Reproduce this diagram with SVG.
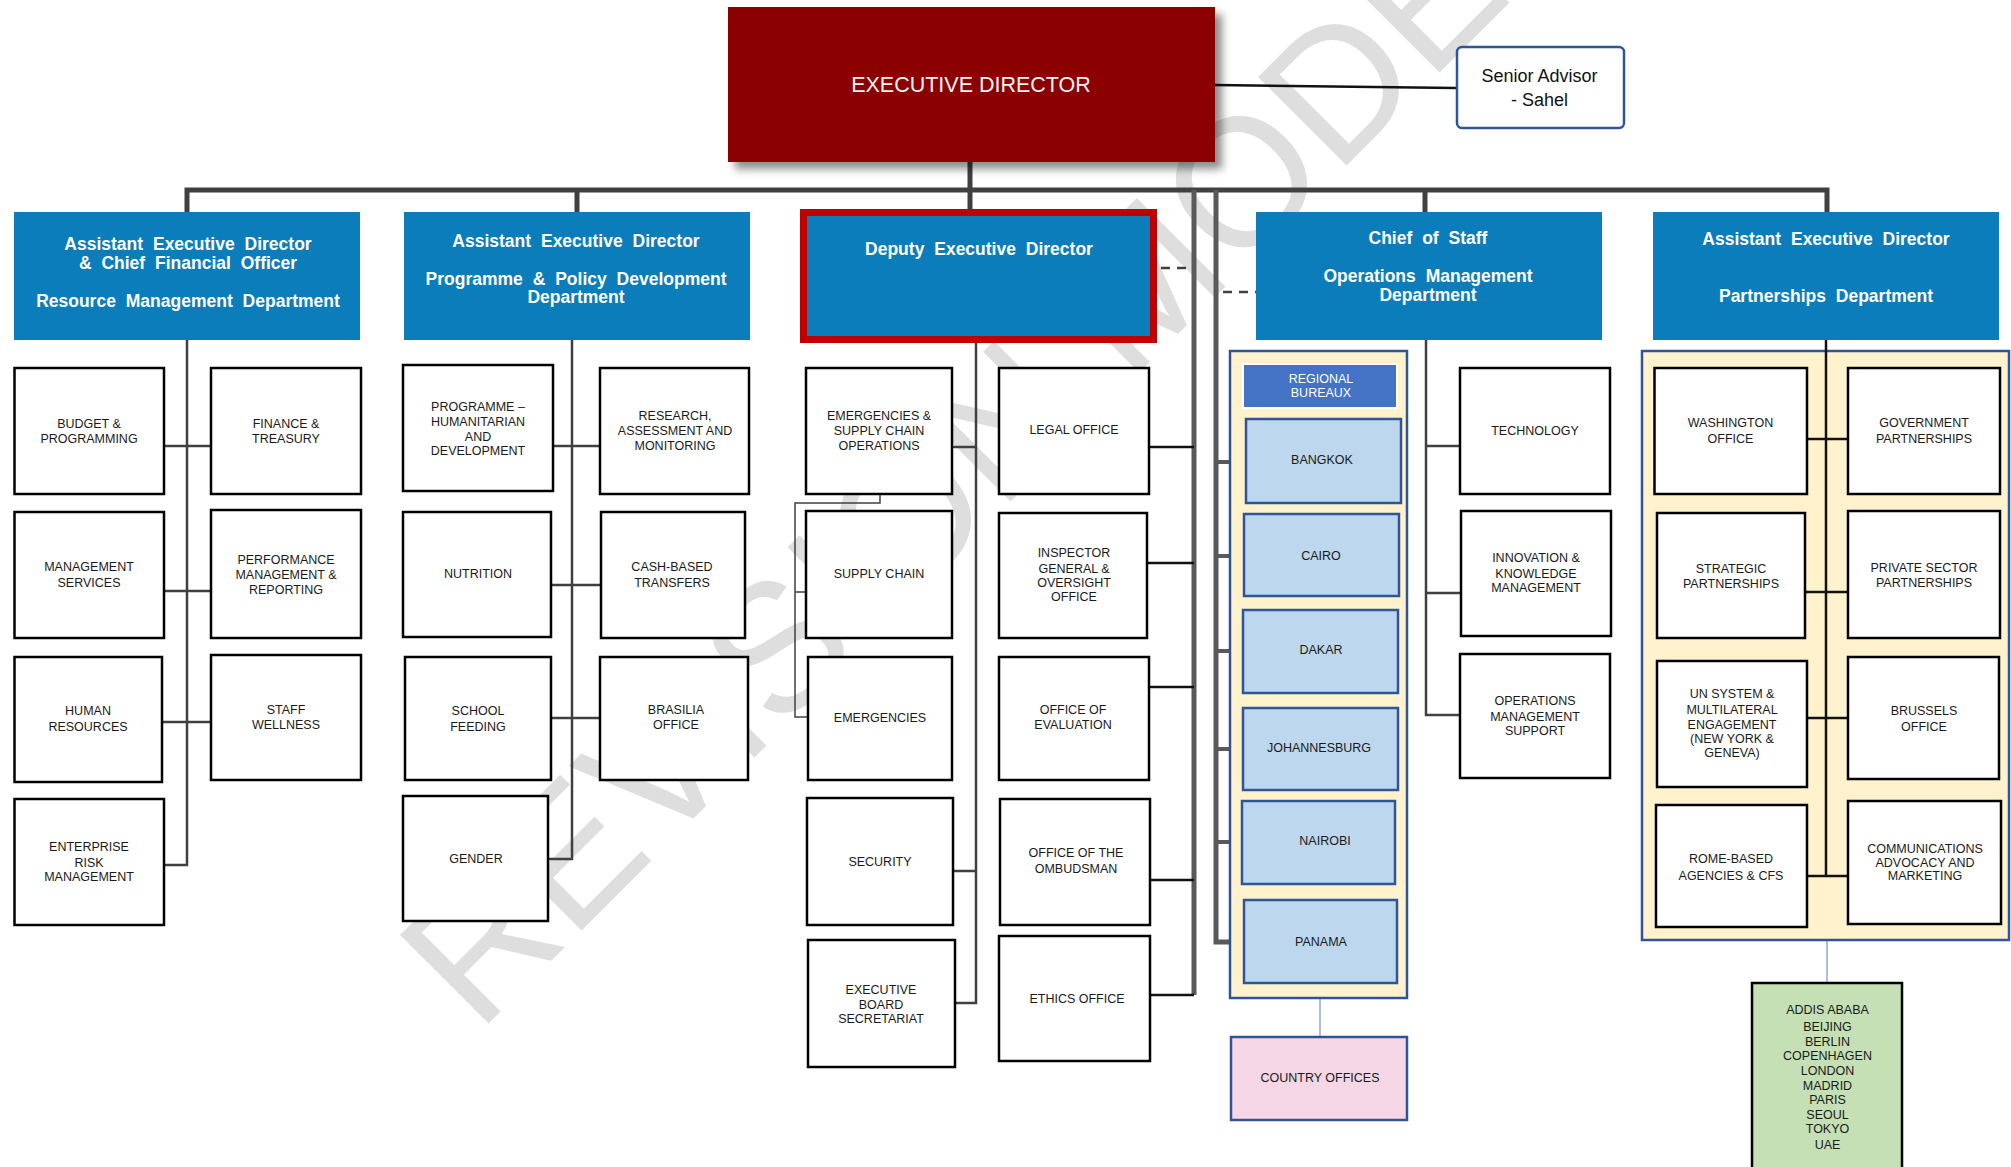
<svg xmlns="http://www.w3.org/2000/svg" width="2011" height="1167" viewBox="0 0 2011 1167">
<defs>
<filter id="shadow" x="-10%" y="-10%" width="130%" height="140%">
<feDropShadow dx="7" dy="7" stdDeviation="4" flood-color="#000" flood-opacity="0.45"/>
</filter>
<style>
.hdr{fill:#0B7DBB;}
.hdrt{font-family:"Liberation Sans",Arial,sans-serif;font-weight:bold;font-size:17.5px;fill:#fff;text-anchor:middle;dominant-baseline:central;word-spacing:5px;}
.box{fill:#fff;stroke:#000;stroke-width:2.5;}
.t{font-family:"Liberation Sans",Arial,sans-serif;font-size:12.5px;fill:#1a1a1a;text-anchor:middle;dominant-baseline:central;}
.rb{fill:#BDD7EE;stroke:#2F5597;stroke-width:2.5;}
.cont{fill:#FFF2CC;stroke:#2F5597;stroke-width:2.5;}
.bus{fill:none;stroke:#404040;stroke-width:5;}
.vg{fill:none;stroke:#595959;stroke-width:5;}
.ln{fill:none;stroke:#404040;stroke-width:2.5;}
.lb{fill:none;stroke:#111;stroke-width:2.5;}
.thin{fill:none;stroke:#404040;stroke-width:1.5;}
.dash{fill:none;stroke:#404040;stroke-width:2.5;stroke-dasharray:9,7;}
.blu{fill:none;stroke:#8FAADC;stroke-width:1.5;}
.wm{font-family:"Liberation Sans",Arial,sans-serif;font-size:182px;fill:#DEDEDE;}
</style>
</defs>
<rect width="2011" height="1167" fill="#fff"/>
<text class="wm" transform="translate(478,1034) rotate(-45)">REVISION MODE</text>

<g id="connectors">
<path class="bus" d="M187,212 V190 H1827 V212"/>
<path class="bus" d="M577,190 V212"/>
<path class="bus" d="M970,162 V209"/>
<path class="bus" d="M1425,190 V212"/>
<path class="vg" d="M1194,190 V995"/>
<path class="vg" d="M1216,190 V942 H1244"/>
<path class="lb" d="M1215,85 L1456,88"/>
<path class="dash" d="M1161,268 H1192"/>
<path class="dash" d="M1223,292 H1256"/>
<path class="ln" d="M187,340 V865 H164 M164,446 H211 M164,591 H211 M162,722 H211"/>
<path class="ln" d="M572,340 V859 H548 M553,446 H600 M551,585 H601 M551,718 H600"/>
<path class="ln" d="M976,343 V1003 H955 M952,447 H976 M953,871 H976"/>
<path class="thin" d="M880,494 V503 H795 V717 H808 M795,592 H806"/>
<path class="lb" d="M1149,447 H1194 M1147,563 H1194 M1149,687 H1194 M1150,880 H1194 M1150,995 H1194"/>
<path class="vg" style="stroke-width:4" d="M1216,462 H1246 M1216,556 H1244 M1216,651 H1243 M1216,749 H1243 M1216,842 H1242"/>
<path class="ln" d="M1426,340 V715 H1460 M1426,446 H1460 M1426,593 H1461"/>
<path class="blu" d="M1320,998 V1037"/>
<path class="blu" d="M1827,940 V982"/>
</g>

<g id="executive-director">
<rect x="728" y="7" width="487" height="155" fill="#8B0000" filter="url(#shadow)"/>
<text x="971" y="85" style="font-family:'Liberation Sans',Arial,sans-serif;font-size:21.5px;fill:#F2F2F2;text-anchor:middle;dominant-baseline:central;">EXECUTIVE DIRECTOR</text>
</g>
<g id="senior-advisor">
<rect x="1457" y="47" width="167" height="81" rx="5" fill="#fff" stroke="#2F5597" stroke-width="2.5"/>
<text x="1539.5" y="76" style="font-family:'Liberation Sans',Arial,sans-serif;font-size:18px;fill:#111;text-anchor:middle;dominant-baseline:central;">Senior Advisor</text>
<text x="1539.5" y="100" style="font-family:'Liberation Sans',Arial,sans-serif;font-size:18px;fill:#111;text-anchor:middle;dominant-baseline:central;">- Sahel</text>
</g>

<g id="rmd">
<rect class="hdr" x="14" y="212" width="346" height="128"/>
<text class="hdrt" x="188" y="244">Assistant Executive Director</text>
<text class="hdrt" x="188" y="263">&amp; Chief Financial Officer</text>
<text class="hdrt" x="188" y="301">Resource Management Department</text>
</g>
<g id="ppd">
<rect class="hdr" x="404" y="212" width="346" height="128"/>
<text class="hdrt" x="576" y="241">Assistant Executive Director</text>
<text class="hdrt" x="576" y="279">Programme &amp; Policy Development</text>
<text class="hdrt" x="576" y="297">Department</text>
</g>
<g id="ded">
<rect x="803.5" y="212.5" width="350" height="127" fill="#0B7DBB" stroke="#C00000" stroke-width="7"/>
<text class="hdrt" x="979" y="249">Deputy Executive Director</text>
</g>
<g id="omd">
<rect class="hdr" x="1256" y="212" width="346" height="128"/>
<text class="hdrt" x="1428" y="238">Chief of Staff</text>
<text class="hdrt" x="1428" y="276">Operations Management</text>
<text class="hdrt" x="1428" y="295">Department</text>
</g>
<g id="pd">
<rect class="hdr" x="1653" y="212" width="346" height="128"/>
<text class="hdrt" x="1826" y="239">Assistant Executive Director</text>
<text class="hdrt" x="1826" y="296">Partnerships Department</text>
</g>

<g id="budget"><rect class="box" x="14.5" y="368" width="149.5" height="126"/><text class="t" x="89" y="423.5">BUDGET &amp;</text><text class="t" x="89" y="439">PROGRAMMING</text></g>
<g id="mgmt-services"><rect class="box" x="14.5" y="512" width="149.5" height="126"/><text class="t" x="89" y="567">MANAGEMENT</text><text class="t" x="89" y="583">SERVICES</text></g>
<g id="hr"><rect class="box" x="14.5" y="657" width="147.5" height="125"/><text class="t" x="88" y="711">HUMAN</text><text class="t" x="88" y="727">RESOURCES</text></g>
<g id="erm"><rect class="box" x="14.5" y="799" width="149.5" height="126"/><text class="t" x="89" y="847">ENTERPRISE</text><text class="t" x="89" y="863">RISK</text><text class="t" x="89" y="877">MANAGEMENT</text></g>
<g id="finance"><rect class="box" x="211" y="368" width="150" height="126"/><text class="t" x="286" y="423.5">FINANCE &amp;</text><text class="t" x="286" y="439">TREASURY</text></g>
<g id="performance"><rect class="box" x="211" y="510" width="150" height="128"/><text class="t" x="286" y="560">PERFORMANCE</text><text class="t" x="286" y="575">MANAGEMENT &amp;</text><text class="t" x="286" y="590">REPORTING</text></g>
<g id="wellness"><rect class="box" x="211" y="655" width="150" height="125"/><text class="t" x="286" y="710">STAFF</text><text class="t" x="286" y="725">WELLNESS</text></g>

<g id="programme"><rect class="box" x="403" y="365" width="150" height="126"/><text class="t" x="478" y="407">PROGRAMME –</text><text class="t" x="478" y="422">HUMANITARIAN</text><text class="t" x="478" y="437">AND</text><text class="t" x="478" y="451">DEVELOPMENT</text></g>
<g id="nutrition"><rect class="box" x="403" y="512" width="148" height="125"/><text class="t" x="478" y="574">NUTRITION</text></g>
<g id="school-feeding"><rect class="box" x="405" y="657" width="146" height="123"/><text class="t" x="478" y="711">SCHOOL</text><text class="t" x="478" y="727">FEEDING</text></g>
<g id="gender"><rect class="box" x="403" y="796" width="145" height="125"/><text class="t" x="476" y="859">GENDER</text></g>
<g id="research"><rect class="box" x="600" y="368" width="149" height="126"/><text class="t" x="675" y="416">RESEARCH,</text><text class="t" x="675" y="431">ASSESSMENT AND</text><text class="t" x="675" y="446">MONITORING</text></g>
<g id="cash-based"><rect class="box" x="601" y="512" width="144" height="126"/><text class="t" x="672" y="567">CASH-BASED</text><text class="t" x="672" y="583">TRANSFERS</text></g>
<g id="brasilia"><rect class="box" x="600" y="657" width="148" height="123"/><text class="t" x="676" y="710">BRASILIA</text><text class="t" x="676" y="725">OFFICE</text></g>

<g id="esc-ops"><rect class="box" x="806" y="368" width="146" height="126"/><text class="t" x="879" y="416">EMERGENCIES &amp;</text><text class="t" x="879" y="431">SUPPLY CHAIN</text><text class="t" x="879" y="446">OPERATIONS</text></g>
<g id="supply-chain"><rect class="box" x="806" y="511" width="146" height="127"/><text class="t" x="879" y="574">SUPPLY CHAIN</text></g>
<g id="emergencies"><rect class="box" x="808" y="657" width="144" height="123"/><text class="t" x="880" y="718">EMERGENCIES</text></g>
<g id="security"><rect class="box" x="807" y="798" width="146" height="127"/><text class="t" x="880" y="862">SECURITY</text></g>
<g id="ebs"><rect class="box" x="808" y="940" width="147" height="127"/><text class="t" x="881" y="990">EXECUTIVE</text><text class="t" x="881" y="1005">BOARD</text><text class="t" x="881" y="1019">SECRETARIAT</text></g>
<g id="legal"><rect class="box" x="999" y="368" width="150" height="126"/><text class="t" x="1074" y="430">LEGAL OFFICE</text></g>
<g id="inspector"><rect class="box" x="999" y="513" width="148" height="125"/><text class="t" x="1074" y="553">INSPECTOR</text><text class="t" x="1074" y="569">GENERAL &amp;</text><text class="t" x="1074" y="583">OVERSIGHT</text><text class="t" x="1074" y="597">OFFICE</text></g>
<g id="evaluation"><rect class="box" x="999" y="657" width="150" height="123"/><text class="t" x="1073" y="710">OFFICE OF</text><text class="t" x="1073" y="725">EVALUATION</text></g>
<g id="ombudsman"><rect class="box" x="1000" y="799" width="150" height="126"/><text class="t" x="1076" y="853">OFFICE OF THE</text><text class="t" x="1076" y="869">OMBUDSMAN</text></g>
<g id="ethics"><rect class="box" x="999" y="936" width="151" height="125"/><text class="t" x="1077" y="999">ETHICS OFFICE</text></g>

<g id="regional-bureaux">
<rect class="cont" x="1230" y="351" width="177" height="647"/>
<rect x="1243" y="364" width="154" height="44" fill="#4472C4" stroke="#fff" stroke-width="2"/>
<text class="t" x="1321" y="379" style="fill:#fff">REGIONAL</text>
<text class="t" x="1321" y="393" style="fill:#fff">BUREAUX</text>
</g>
<g id="bangkok"><rect class="rb" x="1246" y="419" width="155" height="84"/><text class="t" x="1322" y="460">BANGKOK</text></g>
<g id="cairo"><rect class="rb" x="1244" y="514" width="155" height="82"/><text class="t" x="1321" y="556">CAIRO</text></g>
<g id="dakar"><rect class="rb" x="1243" y="610" width="155" height="83"/><text class="t" x="1321" y="650">DAKAR</text></g>
<g id="johannesburg"><rect class="rb" x="1243" y="708" width="155" height="82"/><text class="t" x="1319" y="748">JOHANNESBURG</text></g>
<g id="nairobi"><rect class="rb" x="1242" y="801" width="153" height="83"/><text class="t" x="1325" y="841">NAIROBI</text></g>
<g id="panama"><rect class="rb" x="1244" y="900" width="153" height="83"/><text class="t" x="1321" y="942">PANAMA</text></g>
<g id="country-offices"><rect x="1231" y="1037" width="176" height="83" fill="#F4D6E4" stroke="#2F5597" stroke-width="2.5"/><text class="t" x="1320" y="1078">COUNTRY OFFICES</text></g>

<g id="technology"><rect class="box" x="1460" y="368" width="150" height="126"/><text class="t" x="1535" y="431">TECHNOLOGY</text></g>
<g id="innovation"><rect class="box" x="1461" y="511" width="150" height="125"/><text class="t" x="1536" y="558">INNOVATION &amp;</text><text class="t" x="1536" y="574">KNOWLEDGE</text><text class="t" x="1536" y="588">MANAGEMENT</text></g>
<g id="oms"><rect class="box" x="1460" y="654" width="150" height="124"/><text class="t" x="1535" y="701">OPERATIONS</text><text class="t" x="1535" y="716.5">MANAGEMENT</text><text class="t" x="1535" y="731">SUPPORT</text></g>

<g id="partnerships-container"><rect class="cont" x="1642" y="351" width="367" height="589"/></g>
<g id="partnership-lines"><path class="lb" d="M1826,340 V876 M1807,439 H1848 M1805,592 H1848 M1807,718 H1848 M1807,876 H1848"/></g>
<g id="washington"><rect class="box" x="1654.5" y="368" width="152.5" height="126"/><text class="t" x="1730.5" y="423">WASHINGTON</text><text class="t" x="1730.5" y="439">OFFICE</text></g>
<g id="government"><rect class="box" x="1848" y="368" width="152" height="126"/><text class="t" x="1924" y="423">GOVERNMENT</text><text class="t" x="1924" y="439">PARTNERSHIPS</text></g>
<g id="strategic"><rect class="box" x="1657" y="513" width="148" height="125"/><text class="t" x="1731" y="569">STRATEGIC</text><text class="t" x="1731" y="584">PARTNERSHIPS</text></g>
<g id="private-sector"><rect class="box" x="1848" y="511" width="152" height="127"/><text class="t" x="1924" y="568">PRIVATE SECTOR</text><text class="t" x="1924" y="583">PARTNERSHIPS</text></g>
<g id="un-system"><rect class="box" x="1657" y="661" width="150" height="126"/><text class="t" x="1732" y="694">UN SYSTEM &amp;</text><text class="t" x="1732" y="710">MULTILATERAL</text><text class="t" x="1732" y="724.5">ENGAGEMENT</text><text class="t" x="1732" y="739">(NEW YORK &amp;</text><text class="t" x="1732" y="753">GENEVA)</text></g>
<g id="brussels"><rect class="box" x="1848" y="657" width="151" height="122"/><text class="t" x="1924" y="711">BRUSSELS</text><text class="t" x="1924" y="727">OFFICE</text></g>
<g id="rome"><rect class="box" x="1656" y="805" width="151" height="122"/><text class="t" x="1731" y="859">ROME-BASED</text><text class="t" x="1731" y="876">AGENCIES &amp; CFS</text></g>
<g id="communications"><rect class="box" x="1848" y="801" width="153" height="123"/><text class="t" x="1925" y="848.5">COMMUNICATIONS</text><text class="t" x="1925" y="863">ADVOCACY AND</text><text class="t" x="1925" y="876">MARKETING</text></g>
<g id="liaison-offices"><rect x="1752" y="983" width="150" height="200" fill="#C5E0B4" stroke="#000" stroke-width="2.5"/>
<text class="t" x="1827.5" y="1010">ADDIS ABABA</text><text class="t" x="1827.5" y="1027">BEIJING</text><text class="t" x="1827.5" y="1042">BERLIN</text><text class="t" x="1827.5" y="1056">COPENHAGEN</text><text class="t" x="1827.5" y="1071">LONDON</text><text class="t" x="1827.5" y="1086">MADRID</text><text class="t" x="1827.5" y="1100">PARIS</text><text class="t" x="1827.5" y="1115">SEOUL</text><text class="t" x="1827.5" y="1129">TOKYO</text><text class="t" x="1827.5" y="1145">UAE</text></g>
</svg>
